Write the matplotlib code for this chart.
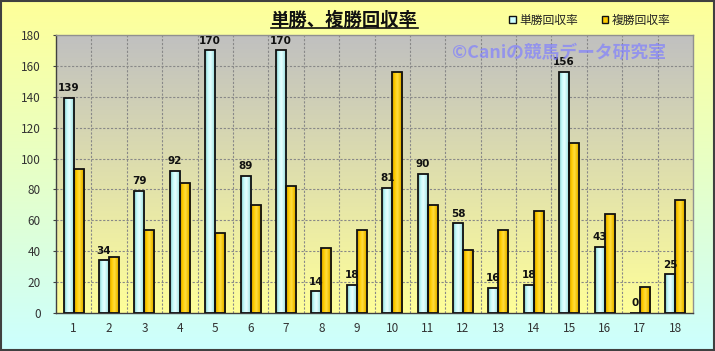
#!/usr/bin/env python3
"""Win / place return rates by horse number (単勝・複勝回収率)."""

import numpy as np
import matplotlib
matplotlib.use("Agg")
import matplotlib.pyplot as plt
from matplotlib.colors import LinearSegmentedColormap
from matplotlib.patches import Rectangle, Patch
from matplotlib.lines import Line2D


# ==============================
# Data
# ==============================

CATEGORIES = [str(i) for i in range(1, 19)]
WIN_RETURN = [139, 34, 79, 92, 170, 89, 170, 14, 18, 81, 90, 58, 16, 18, 156, 43, 0, 25]
PLACE_RETURN = [93, 36, 54, 84, 52, 70, 82, 42, 54, 156, 70, 41, 54, 66, 110, 64, 17, 73]

TITLE = "単勝、複勝回収率"
LEGEND_LABELS = ["単勝回収率", "複勝回収率"]
WATERMARK = "©Caniの競馬データ研究室"
Y_TICKS = list(range(0, 181, 20))


# ==============================
# Style
# ==============================

plt.rcParams["font.family"] = ["Noto Sans CJK JP", "DejaVu Sans"]

CYAN_MAP = LinearSegmentedColormap.from_list(
    "cyl_cyan", ["#7FBFBF", "#C4FAFA", "#E8FFFF", "#B8EEEE", "#80BFBF"])
GOLD_MAP = LinearSegmentedColormap.from_list(
    "cyl_gold", ["#C89600", "#FFCC00", "#FFDD40", "#F0BE00", "#B88A00"])
BG_MAP = LinearSegmentedColormap.from_list("bg", ["#FFFF99", "#E6FFC8", "#CCFFFF"])
PLOT_MAP = LinearSegmentedColormap.from_list("plot", ["#C0C0C0", "#FFFF99"])


def shade_bars(ax, bars, cmap):
    """Fill each bar with a horizontal cylinder-like gradient."""
    grad = np.linspace(0, 1, 64).reshape(1, -1)
    for p in bars.patches:
        h = p.get_height()
        if h <= 0:
            continue
        x0 = p.get_x()
        im = ax.imshow(grad, cmap=cmap, aspect="auto", zorder=2,
                       extent=[x0, x0 + p.get_width(), 0, h], interpolation="bilinear")
        im.set_clip_path(p)


def main():
    fig = plt.figure(figsize=(7.15, 3.51), dpi=100)

    # figure background gradient
    bg = fig.add_axes([0, 0, 1, 1], zorder=-5)
    bg.imshow(np.linspace(0, 1, 256).reshape(-1, 1), cmap=BG_MAP, aspect="auto",
              extent=[0, 1, 0, 1], interpolation="bilinear")
    bg.set_axis_off()
    fig.patches.append(Rectangle((0.001, 0.002), 0.997, 0.995, transform=fig.transFigure,
                                 fill=False, edgecolor="#404040", linewidth=1.5))

    ax = fig.add_axes([56 / 715, 38 / 351, 637 / 715, 278 / 351])
    ax.set_facecolor("none")
    ax.imshow(np.linspace(0, 1, 256).reshape(-1, 1), cmap=PLOT_MAP, aspect="auto",
              extent=[0, 1, 0, 1], transform=ax.transAxes, zorder=0,
              interpolation="bilinear")

    x = np.arange(len(CATEGORIES))
    w = 0.283
    win_bars = ax.bar(x - w / 2, WIN_RETURN, w, facecolor="none",
                      edgecolor="#111111", linewidth=1.3, zorder=3)
    place_bars = ax.bar(x + w / 2, PLACE_RETURN, w, facecolor="none",
                        edgecolor="#111111", linewidth=1.3, zorder=3)
    shade_bars(ax, win_bars, CYAN_MAP)
    shade_bars(ax, place_bars, GOLD_MAP)

    for xi, v in zip(x, WIN_RETURN):
        ax.annotate(str(v), (xi - w / 2, v), xytext=(0, 3.5), textcoords="offset points",
                    ha="center", va="bottom", fontsize=7.5, fontweight="bold",
                    family="DejaVu Sans", color="#111111", zorder=6)

    # grid
    for yv in Y_TICKS[1:-1]:
        ax.axhline(yv, color="#888888", linewidth=0.8, linestyle=(0, (2, 1.5)), zorder=1)
    for xv in x[:-1] + 0.5:
        ax.axvline(xv, color="#888888", linewidth=0.8, linestyle=(0, (2, 1.5)), zorder=1)

    ax.set_xlim(-0.5, len(CATEGORIES) - 0.5)
    ax.set_ylim(0, 180)
    ax.set_yticks(Y_TICKS)
    ax.set_xticks(x)
    ax.set_xticklabels(CATEGORIES)
    ax.tick_params(axis="y", length=2.5, width=0.8, color="#404040", pad=8.5,
                   labelsize=8.5, labelcolor="#333333")
    ax.tick_params(axis="x", length=0, pad=6.5, labelsize=8.5, labelcolor="#333333")
    for side in ("left", "bottom"):
        ax.spines[side].set_color("#404040")
        ax.spines[side].set_linewidth(1.0)
    for side in ("top", "right"):
        ax.spines[side].set_color("#909090")
        ax.spines[side].set_linewidth(1.0)

    # title with underline
    title = fig.text(344 / 715, 1 - 20 / 351, TITLE, ha="center", va="center",
                     fontsize=13.2, fontweight="bold", color="#111111")

    # legend
    handles = [Patch(facecolor="#CCFFFF", edgecolor="#111111", linewidth=1.0),
               Patch(facecolor="#FFCC00", edgecolor="#111111", linewidth=1.0)]
    fig.legend(handles, LEGEND_LABELS, loc="center", ncol=2,
               bbox_to_anchor=(590 / 715, 1 - 20 / 351), frameon=False,
               fontsize=8.5, handlelength=0.55, handleheight=0.55,
               handletextpad=0.3, columnspacing=2.0, labelcolor="#222222")

    # watermark
    fig.text(452 / 715, 1 - 53 / 351, WATERMARK, ha="left", va="center",
             fontsize=12.8, fontweight="bold", color="#8080FF", alpha=0.7, zorder=5)

    fig.canvas.draw()
    bb = title.get_window_extent().transformed(fig.transFigure.inverted())
    fig.lines.append(Line2D([bb.x0, bb.x1], [bb.y0 + 0.004, bb.y0 + 0.004],
                            transform=fig.transFigure, color="#111111", linewidth=1.2))

    fig.savefig("out.png", dpi=100)


if __name__ == "__main__":
    main()
